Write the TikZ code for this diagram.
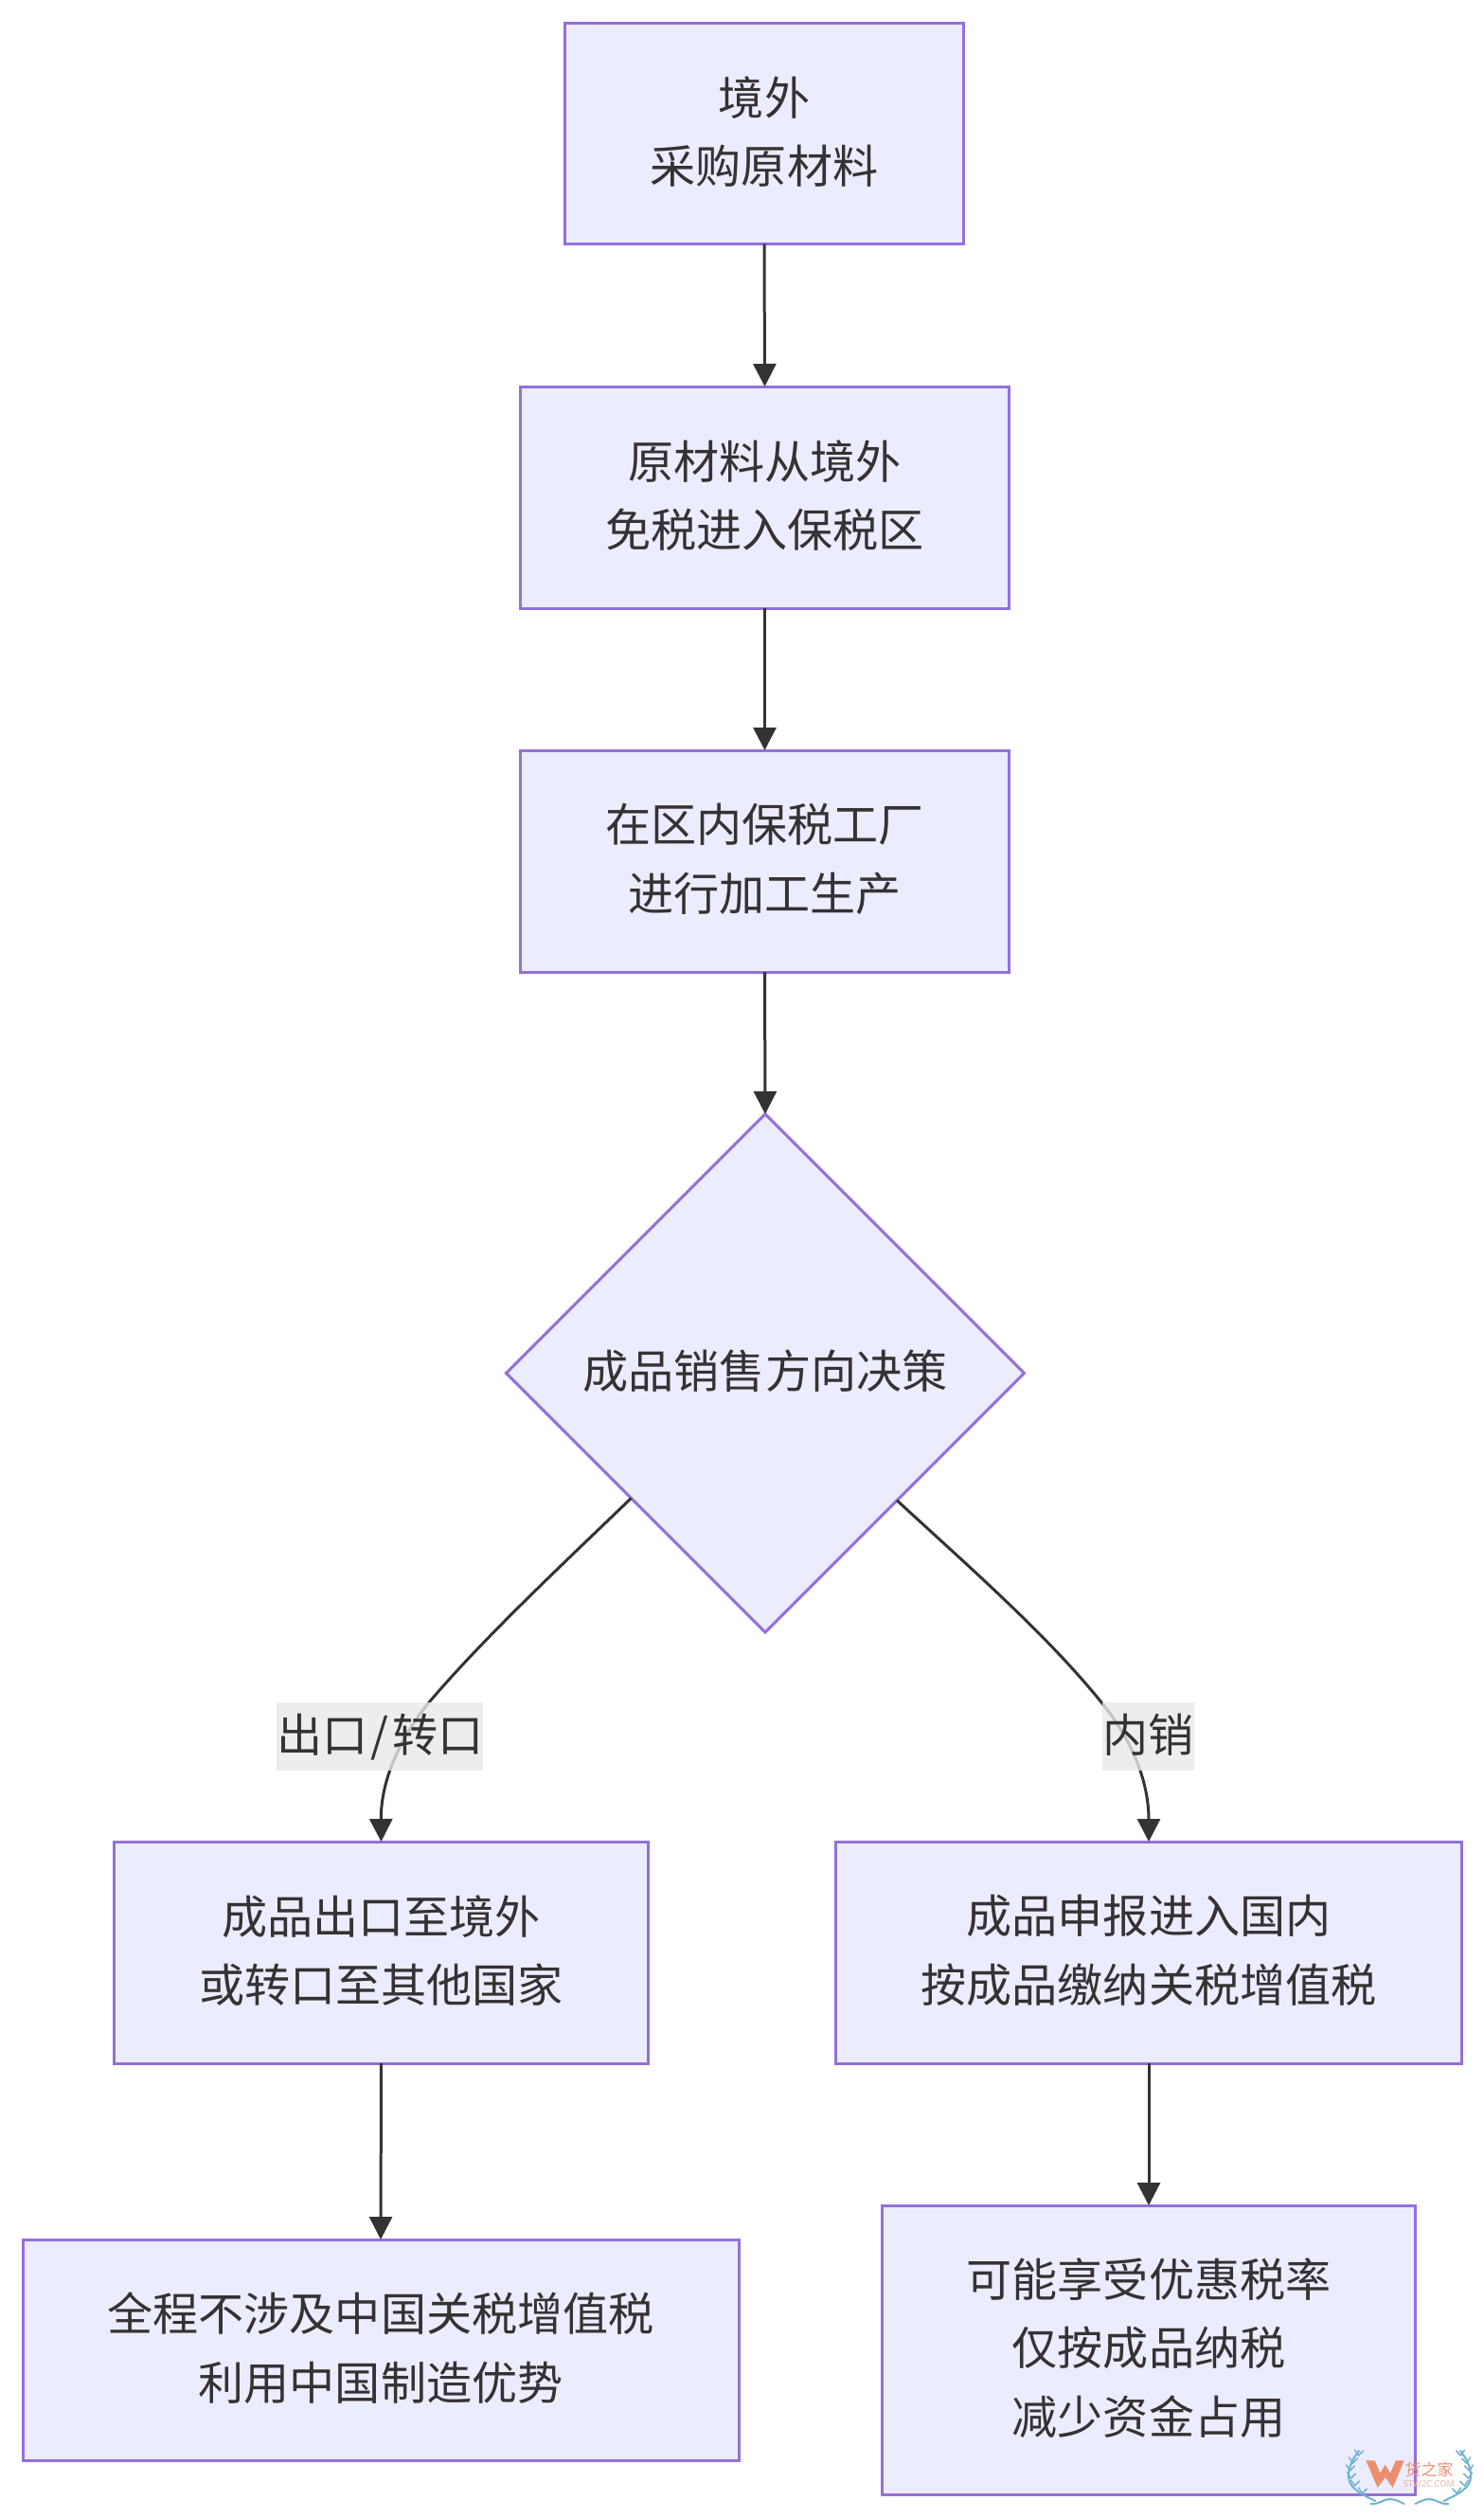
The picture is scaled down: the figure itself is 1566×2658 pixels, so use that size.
\documentclass[tikz,border=0pt]{standalone}
\usepackage{fontspec}
\setmainfont{Noto Sans CJK SC}
\newfontfamily\wmfont{Open Sans}
\usetikzlibrary{arrows.meta,shapes.geometric}
\definecolor{nodefill}{HTML}{ECECFF}
\definecolor{nodeline}{HTML}{9370DB}
\definecolor{ink}{HTML}{333333}
\definecolor{labelbg}{HTML}{E8E8E8}
\definecolor{wmorange}{HTML}{EB8E6E}
\definecolor{wmblue}{HTML}{6FB3D2}
\tikzset{
  x=1pt,y=-1pt,
  flowbox/.style={draw=nodeline,fill=nodefill,line width=3pt,rectangle,inner sep=0pt,outer sep=0pt,
    text=ink,align=center,text depth=8pt,font=\fontsize{48.1}{72.5}\selectfont},
  decision/.style={flowbox,diamond,aspect=1,minimum width=547pt,minimum height=547pt},
  flow/.style={draw=ink,line width=3pt,-{Triangle[width=24pt,length=24pt]}},
  edgelabel/.style={fill=labelbg,fill opacity=0.8,text opacity=1,text=ink,inner sep=0pt,outer sep=0pt,
    text depth=8pt,font=\fontsize{48.1}{48.1}\selectfont,minimum height=72pt},
  leaf/.style={wmblue,line width=2pt,line cap=round},
}
\begin{document}
\begin{tikzpicture}
\useasboundingbox (0,0) rectangle (1566,2658);
\node[flowbox,minimum width=421pt,minimum height=233pt] (a) at (807,141) {境外\\采购原材料};
\node[flowbox,minimum width=516pt,minimum height=234pt] (b) at (807.5,525) {原材料从境外\\免税进入保税区};
\node[flowbox,minimum width=516pt,minimum height=234pt] (c) at (807.5,909) {在区内保税工厂\\进行加工生产};
\node[decision] (d) at (808,1449.5) {成品销售方向决策};
\node[flowbox,minimum width=564pt,minimum height=234pt] (e) at (402.5,2061) {成品出口至境外\\或转口至其他国家};
\node[flowbox,minimum width=661pt,minimum height=234pt] (f) at (1213,2061) {成品申报进入国内\\按成品缴纳关税增值税};
\node[flowbox,minimum width=756pt,minimum height=233pt] (g) at (402,2480.5) {全程不涉及中国关税增值税\\利用中国制造优势};
\node[flowbox,minimum width=563pt,minimum height=305pt] (h) at (1213,2480.5) {可能享受优惠税率\\仅按成品纳税\\减少资金占用};

\draw[flow] (a.south) -- (b.north);
\draw[flow] (b.south) -- (c.north);
\draw[flow] (c.south) -- (d.north);
\draw[flow] (d.223.4) .. controls (590,1655) and (510,1730) .. (453,1797)
  .. controls (422,1835) and (402,1880) .. (e.north);
\draw[flow] (d.316.5) .. controls (1030,1660) and (1110,1730) .. (1167,1802)
  .. controls (1195,1838) and (1213,1880) .. (f.north);
\draw[flow] (e.south) -- (g.north);
\draw[flow] (f.south) -- (h.north);

\node[edgelabel,minimum width=217pt] (l1) at (401.3,1833) {出口\hspace{3.5pt}/\hspace{3.5pt}转口};
\node[edgelabel,minimum width=97pt] (l2) at (1212.6,1833) {内销};

% watermark
\fill[wmorange] (1442.3,2597.3) -- (1451.7,2597.3) -- (1457.3,2610.7) -- (1462.7,2601.7) -- (1468,2610.7)
  -- (1474,2597.3) -- (1482.7,2597.3) -- (1470.7,2626) -- (1462.7,2615) -- (1454.7,2626) -- cycle;
\node[text=wmorange,font=\fontsize{17}{17}\selectfont,inner sep=0pt] (wm1) at (1509,2607) {货之家};
\node[text=wmorange!70,font=\wmfont\fontsize{9.5}{10}\selectfont,inner sep=0pt] (wm2) at (1509,2622) {STW2C.COM};
\foreach \m in {1,-1}{
  \begin{scope}[xshift=1488.5pt,xscale=\m]
    \draw[leaf] (-53.5,2587) .. controls (-64,2600) and (-70,2618) .. (-58,2627) .. controls (-52,2633) and (-44,2636) .. (-36,2640);
    \foreach \px/\py in {-54/2592,-60/2600,-63/2608,-62/2616,-58/2624,-50/2632}{
      \draw[leaf,line width=1.5pt] (\px,\py) -- ++(5,-5);
      \draw[leaf,line width=1.5pt] (\px,\py) -- ++(-4,-6);
    }
    \draw[leaf] (-41,2643) .. controls (-32,2644) and (-28,2638) .. (-21,2638) .. controls (-15,2638) and (-10,2641) .. (-6,2643);
  \end{scope}
}
\end{tikzpicture}
\end{document}
